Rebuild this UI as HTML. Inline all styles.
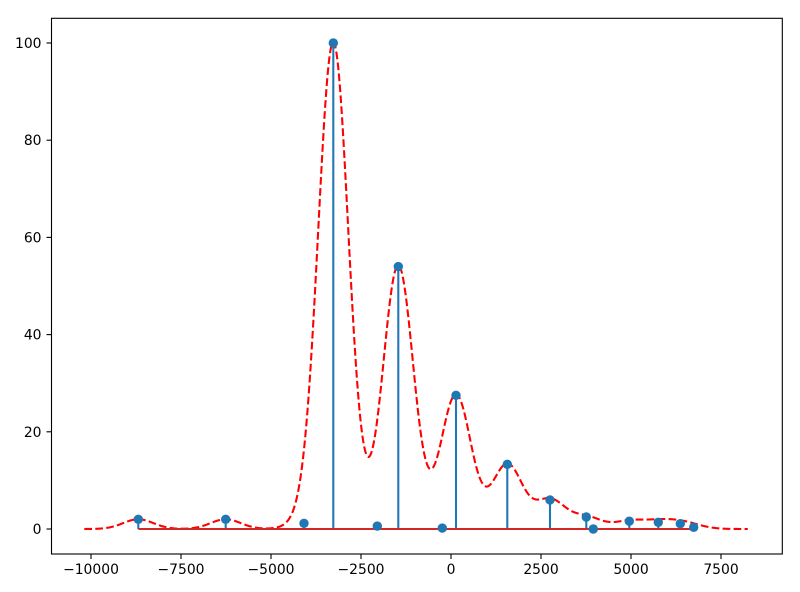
<!DOCTYPE html>
<html>
<head>
<meta charset="utf-8">
<style>
html,body{margin:0;padding:0;background:#fff;}
svg{display:block;}
text{font-family:"DejaVu Sans","Liberation Sans",sans-serif;font-size:13.9px;fill:#000;}
</style>
</head>
<body>
<svg id="c" width="800" height="592" viewBox="0 0 800 592" xmlns="http://www.w3.org/2000/svg">
<rect x="0" y="0" width="800" height="592" fill="#fff"/>
<defs><clipPath id="ax"><rect x="51.5" y="18.3" width="730.8" height="535.7"/></clipPath></defs>
<g clip-path="url(#ax)">
<path id="curve" d="" fill="none" stroke="#ff0000" stroke-width="2.08" stroke-dasharray="7.7,3.3"/>
<g id="stems" stroke="#1f77b4" stroke-width="2.08"></g>
<line x1="138.3" y1="529" x2="693.7" y2="529" stroke="#d62728" stroke-width="2.08"/>
<g id="marks" fill="#1f77b4"></g>
</g>
<rect x="51.5" y="18.3" width="730.8" height="535.7" fill="none" stroke="#000" stroke-width="1.1"/>
<g stroke="#000" stroke-width="1.1">
<line x1="91" y1="554" x2="91" y2="559"/>
<line x1="181" y1="554" x2="181" y2="559"/>
<line x1="271" y1="554" x2="271" y2="559"/>
<line x1="361" y1="554" x2="361" y2="559"/>
<line x1="451" y1="554" x2="451" y2="559"/>
<line x1="541" y1="554" x2="541" y2="559"/>
<line x1="631" y1="554" x2="631" y2="559"/>
<line x1="721" y1="554" x2="721" y2="559"/>
<line x1="46.5" y1="529" x2="51.5" y2="529"/>
<line x1="46.5" y1="431.8" x2="51.5" y2="431.8"/>
<line x1="46.5" y1="334.6" x2="51.5" y2="334.6"/>
<line x1="46.5" y1="237.4" x2="51.5" y2="237.4"/>
<line x1="46.5" y1="140.2" x2="51.5" y2="140.2"/>
<line x1="46.5" y1="43" x2="51.5" y2="43"/>
</g>
<g text-anchor="middle">
<text x="91" y="574">−10000</text>
<text x="181" y="574">−7500</text>
<text x="271" y="574">−5000</text>
<text x="361" y="574">−2500</text>
<text x="451" y="574">0</text>
<text x="541" y="574">2500</text>
<text x="631" y="574">5000</text>
<text x="721" y="574">7500</text>
</g>
<g text-anchor="end">
<text x="41.5" y="534">0</text>
<text x="41.5" y="436.8">20</text>
<text x="41.5" y="339.6">40</text>
<text x="41.5" y="242.4">60</text>
<text x="41.5" y="145.2">80</text>
<text x="41.5" y="48">100</text>
</g>
</svg>
<script>
(function(){
var pts=[[138.3,2.0],[225.7,2.0],[304,1.17],[333.3,100],[377.3,0.6],[398.3,54],[442.3,0.2],[456,27.5],[507.3,13.3],[550,5.97],[586.3,2.47],[593.3,0],[629.3,1.6],[658.3,1.38],[680.3,1.09],[693.7,0.35]];
var y0=529,sc=4.86,s=15.1,ns="http://www.w3.org/2000/svg";
var d="";
for(var x=84.3;x<=747.8;x+=0.5){
  var v=0;
  for(var i=0;i<pts.length;i++){var dx=x-pts[i][0];v+=pts[i][1]*Math.exp(-dx*dx/(2*s*s));}
  d+=(d?"L":"M")+x.toFixed(2)+","+(y0-sc*v).toFixed(2);
}
document.getElementById("curve").setAttribute("d",d);
var st=document.getElementById("stems"),mk=document.getElementById("marks");
pts.forEach(function(p){
  var yy=y0-sc*p[1];
  var l=document.createElementNS(ns,"line");
  l.setAttribute("x1",p[0]);l.setAttribute("x2",p[0]);l.setAttribute("y1",y0);l.setAttribute("y2",yy);
  st.appendChild(l);
  var c=document.createElementNS(ns,"circle");
  c.setAttribute("cx",p[0]);c.setAttribute("cy",yy);c.setAttribute("r","4.7");
  mk.appendChild(c);
});
})();
</script>
</body>
</html>
